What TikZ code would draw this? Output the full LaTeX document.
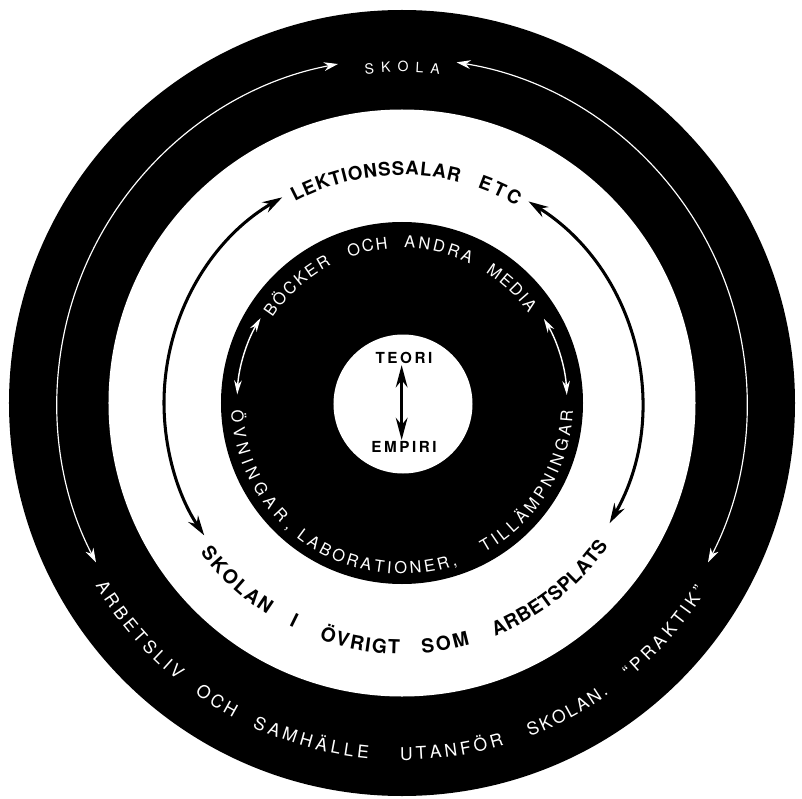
\documentclass[tikz,border=0pt]{standalone}
\usepackage{fontspec}
\setmainfont{TeX Gyre Heros}
\usetikzlibrary{arrows.meta,decorations.text,positioning}
% one word bent along a ring: radius, from angle, to angle, format, word
\newcommand{\ringword}[5]{{#4\path[decorate,decoration={text along path,
    text align={fit to path},text={|#4|#5}}]
    (#2:#1) arc[start angle=#2,end angle=#3,radius=#1];}}
\newcommand{\thinfont}{\color{white}\fontsize{15}{17}\selectfont}
\newcommand{\skolafont}{\color{white}\fontsize{12}{14}\selectfont}
\newcommand{\innerfont}{\color{white}\fontsize{14}{16}\selectfont}
\newcommand{\ringfont}{\bfseries\fontsize{16}{18}\selectfont}
\newcommand{\ringfontb}{\bfseries\fontsize{16.5}{18}\selectfont}

\begin{document}
\begin{tikzpicture}[x=0.3mm,y=0.3mm,
  warrow/.style={white,line width=1pt,{Stealth[length=12pt,width=7.5pt]}-{Stealth[length=12pt,width=7.5pt]}},
  wsmall/.style={white,line width=1.2pt,{Stealth[length=12pt,width=6.5pt]}-{Stealth[length=12pt,width=6.5pt]}},
  barrow/.style={black,line width=2.6pt,{Stealth[length=17pt,width=10pt]}-{Stealth[length=17pt,width=10pt]}},
  pole/.style={font=\bfseries\fontsize{13}{15}\selectfont,inner sep=1pt}]
\fill[white] (-402,-395) rectangle (400,403);
\useasboundingbox (-402,-395) rectangle (400,403);

% rings
\fill[black] (0,0) circle (393);
\fill[white] (0,0) circle (293.5);
\fill[black] (0,0) circle (181);
\fill[white] (1,-1) circle (69.5);

% outer ring
\ringword{331}{96.4}{83.5}{\skolafont}{SKOLA}
\ringword{357}{210.8}{231.0}{\thinfont}{ARBETSLIV}
\ringword{357}{234.5}{241.8}{\thinfont}{OCH}
\ringword{357}{245.2}{264.6}{\thinfont}{SAMHÄLLE}
\ringword{357}{269.7}{286.6}{\thinfont}{UTANFÖR}
\ringword{357}{291.0}{305.4}{\thinfont}{SKOLAN.}
\ringword{357}{309.5}{328.4}{\thinfont}{“PRAKTIK”}
\draw[warrow] (100.7:345) arc[start angle=100.7,end angle=207.5,radius=345];
\draw[warrow] (80.9:345) arc[start angle=80.9,end angle=-27.5,radius=345];

% white ring
\ringword{228}{118.0}{75.5}{\ringfont}{LEKTIONSSALAR}
\ringword{228}{70.7}{59.8}{\ringfont}{ETC}
\ringword{251}{216.5}{237.5}{\ringfontb}{SKOLAN}
\node[rotate=333.7,font=\ringfontb,inner sep=0pt] (wordi) at (243.7:243) {I};
\ringword{251}{250.7}{269.5}{\ringfontb}{ÖVRIGT}
\ringword{251}{274.6}{285.7}{\ringfontb}{SOM}
\ringword{251}{291.8}{325.3}{\ringfontb}{ARBETSPLATS}
\draw[barrow] (120.2:238) arc[start angle=120.2,end angle=213.8,radius=238];
\draw[barrow] (57.9:238) arc[start angle=57.9,end angle=-29.6,radius=240];

% inner black ring
\ringword{155}{146.7}{117.2}{\innerfont}{BÖCKER}
\ringword{155}{109.8}{95.1}{\innerfont}{OCH}
\ringword{155}{89.2}{64.0}{\innerfont}{ANDRA}
\ringword{155}{57.4}{35.3}{\innerfont}{MEDIA}
\ringword{171}{182.4}{228.2}{\innerfont}{ÖVNINGAR,}
\ringword{171}{231.8}{289.0}{\innerfont}{LABORATIONER,}
\ringword{171}{298.8}{357.5}{\innerfont}{TILLÄMPNINGAR}
\draw[wsmall] (149:165) arc[start angle=149,end angle=177,radius=165];
\draw[wsmall] (30.7:165) arc[start angle=30.7,end angle=2.8,radius=165];

% centre
\node[pole] (teori) at (2,45) {T\,E\,O\,R\,I};
\node[pole] (empiri) at (2,-44) {E\,M\,P\,I\,R\,I};
\draw[black,line width=2.4pt,{Stealth[length=19pt,width=10pt]}-{Stealth[length=19pt,width=10pt]}]
  ([xshift=-2pt]teori.south) -- ([xshift=-2pt]empiri.north);
\end{tikzpicture}
\end{document}
